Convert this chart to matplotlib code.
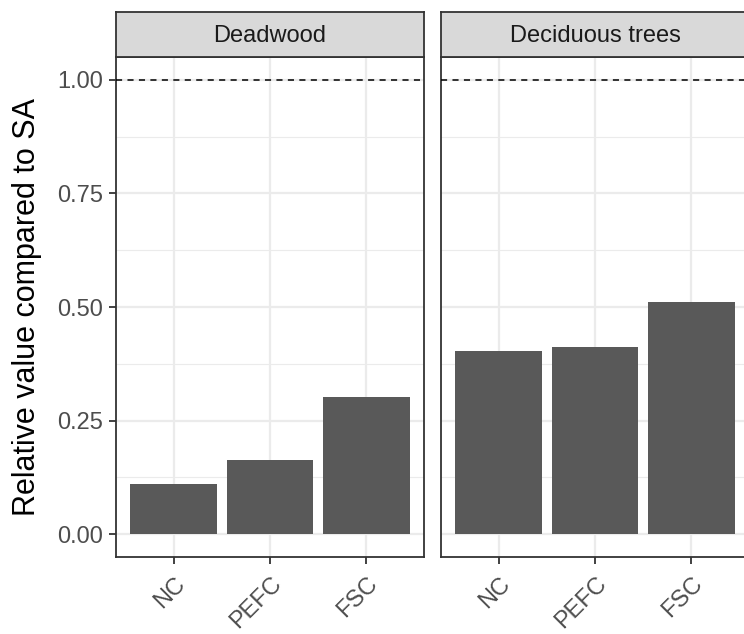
import matplotlib
matplotlib.use("Agg")
import matplotlib.pyplot as plt
import numpy as np

plt.rcParams['font.family'] = ['Liberation Sans', 'DejaVu Sans']

categories = ["NC", "PEFC", "FSC"]
facets = ["Deadwood", "Deciduous trees"]
deadwood = [0.110, 0.163, 0.303]
deciduous = [0.403, 0.412, 0.511]
yticks = [0.00, 0.25, 0.50, 0.75, 1.00]
ytick_labels = ["0.00", "0.25", "0.50", "0.75", "1.00"]
values = [deadwood, deciduous]

W, H = 744, 634
fig = plt.figure(figsize=(W / 100, H / 100), dpi=100)

panel_left = [116, 441]
panel_w = 308
panel_top = 57
panel_bottom = 557
strip_top = 12

for i, (name, vals) in enumerate(zip(facets, values)):
    x0 = panel_left[i]
    ax = fig.add_axes([x0 / W, 1 - panel_bottom / H, panel_w / W, (panel_bottom - panel_top) / H])
    ax.set_xlim(0.4, 3.6)
    ax.set_ylim(-0.05, 1.05)
    xs = np.arange(1, len(categories) + 1)
    for y in [0.125, 0.375, 0.625, 0.875]:
        ax.axhline(y, color="#EBEBEB", lw=0.8, zorder=0)
    for y in yticks:
        ax.axhline(y, color="#EBEBEB", lw=1.6, zorder=0)
    for x in xs:
        ax.axvline(x, color="#EBEBEB", lw=1.6, zorder=0)
    ax.bar(xs, vals, width=0.9, color="#595959", zorder=2)
    ax.axhline(1.0, color="black", lw=1.1, ls=(0, (4, 3.5)), zorder=3)
    ax.set_xticks(xs)
    ax.set_xticklabels(categories, rotation=45, ha="right", va="top",
                       rotation_mode="anchor", fontsize=17, color="#4D4D4D")
    ax.set_yticks(yticks)
    ax.tick_params(axis="both", color="#333333", width=1.3, length=5, pad=4)
    ax.tick_params(axis="x", pad=6.5)
    if i == 0:
        ax.set_yticklabels(ytick_labels, fontsize=17, color="#4D4D4D")
    else:
        ax.set_yticklabels([])
        ax.tick_params(axis="y", length=0)
    for s in ax.spines.values():
        s.set_color("#333333")
        s.set_linewidth(1.3)
    ax.set_facecolor("white")
    sax = fig.add_axes([x0 / W, 1 - panel_top / H, panel_w / W, (panel_top - strip_top) / H])
    sax.set_xlim(0, 1)
    sax.set_ylim(0, 1)
    sax.set_facecolor("#D9D9D9")
    sax.set_xticks([])
    sax.set_yticks([])
    for s in sax.spines.values():
        s.set_color("#333333")
        s.set_linewidth(1.3)
    sax.text(0.5, 0.47, name, ha="center", va="center", fontsize=17, color="#1A1A1A")

fig.text(27 / W, 1 - 307 / H, "Relative value compared to SA", rotation=90,
         ha="center", va="center", fontsize=22, color="black")

fig.savefig("out.png", dpi=100)
